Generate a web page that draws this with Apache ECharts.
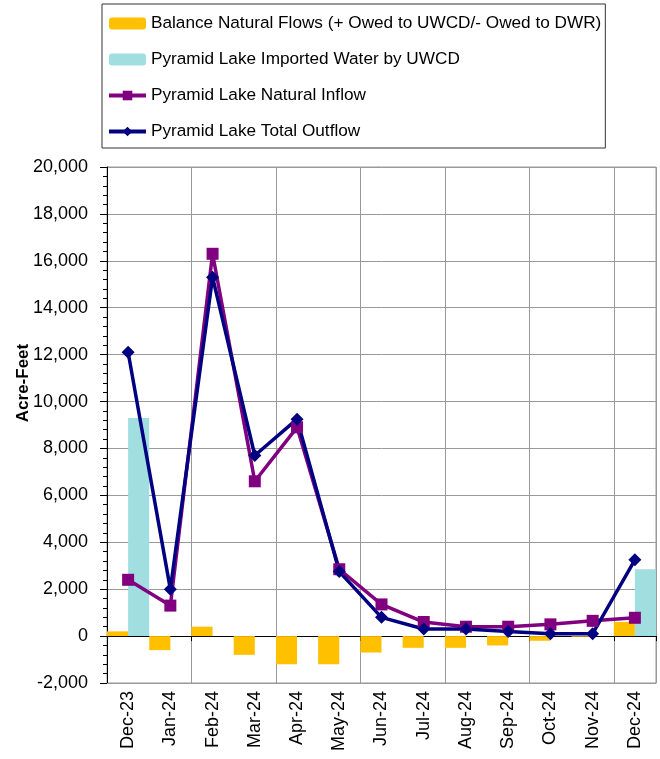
<!DOCTYPE html>
<html>
<head>
<meta charset="utf-8">
<script src="https://cdn.jsdelivr.net/npm/echarts@6/dist/echarts.min.js"></script>
<style>
  html, body { margin: 0; padding: 0; background: #fff; }
  #chart { width: 660px; height: 759px; }
</style>
</head>
<body>
<div id="chart"></div>
<script>
const months = ['Dec-23', 'Jan-24', 'Feb-24', 'Mar-24', 'Apr-24', 'May-24', 'Jun-24',
  'Jul-24', 'Aug-24', 'Sep-24', 'Oct-24', 'Nov-24', 'Dec-24']

// acre-feet
const balanceFlows = [200, -600, 400, -800, -1200, -1200, -700, -500, -500, -400, -200, -30, 600]
const importedWater = [9300, null, null, null, null, null, null, null, null, null, null, null, 2850]
const naturalInflow = [2400, 1300, 16300, 6600, 8900, 2850, 1350, 600, 400, 400, 500, 650, 780]
const totalOutflow = [12100, 2000, 15300, 7700, 9250, 2750, 800, 300, 300, 200, 100, 100, 3250]

const FONT = 'Liberation Sans, Arial, sans-serif'
const chart = echarts.init(document.getElementById('chart'))

chart.setOption({
  animation: false,
  textStyle: { fontFamily: FONT },
  legend: {
    orient: 'vertical',
    left: 102,
    top: 4,
    padding: [11, 4, 8, 5],
    itemGap: 19,
    itemWidth: 37,
    itemHeight: 12,
    borderColor: '#333',
    borderWidth: 1,
    backgroundColor: '#fff',
    textStyle: { fontSize: 17.2, color: '#000', fontFamily: FONT },
    data: [
      { name: 'Balance Natural Flows (+ Owed to UWCD/- Owed to DWR)' },
      { name: 'Pyramid Lake Imported Water by UWCD' },
      { name: 'Pyramid Lake Natural Inflow', lineStyle: { width: 4 } },
      { name: 'Pyramid Lake Total Outflow', lineStyle: { width: 4 } }
    ]
  },
  grid: {
    left: 107, right: 4, top: 167, bottom: 76,
    outerBoundsMode: 'none',
    containLabel: false,
    show: true, borderColor: '#999', borderWidth: 1
  },
  xAxis: [{
    type: 'category',
    data: months,
    position: 'bottom',
    axisLine: { onZero: true, lineStyle: { color: '#000', width: 1 } },
    axisTick: { show: true, length: 5, lineStyle: { color: '#000' } },
    axisLabel: { show: false },
    splitLine: { show: true, lineStyle: { color: '#999', width: 1 } }
  }, {
    type: 'category',
    data: months,
    position: 'bottom',
    axisLine: { onZero: false, lineStyle: { color: '#999' } },
    axisTick: { show: false },
    axisLabel: { rotate: 90, fontSize: 18, color: '#000', margin: 8, fontFamily: FONT },
    splitLine: { show: false }
  }],
  yAxis: {
    type: 'value',
    min: -2000,
    max: 20000,
    interval: 2000,
    name: 'Acre-Feet',
    nameLocation: 'middle',
    nameGap: 75,
    nameMoveOverlap: false,
    nameTextStyle: { fontSize: 17, fontWeight: 'bold', color: '#000', padding: [0, 0, 0, 84] },
    axisLine: { show: true, lineStyle: { color: '#000' } },
    axisTick: { show: true, length: 7, lineStyle: { color: '#000' } },
    minorTick: { show: true, splitNumber: 5, length: 4, lineStyle: { color: '#000' } },
    axisLabel: { fontSize: 18, color: '#000', margin: 19, fontFamily: FONT },
    splitLine: { show: true, lineStyle: { color: '#999', width: 1 } }
  },
  series: [{
    name: 'Balance Natural Flows (+ Owed to UWCD/- Owed to DWR)',
    type: 'bar',
    data: balanceFlows,
    barGap: 0,
    barCategoryGap: 0,
    itemStyle: { color: '#FFC000' }
  }, {
    name: 'Pyramid Lake Imported Water by UWCD',
    type: 'bar',
    data: importedWater,
    barGap: 0,
    barCategoryGap: 0,
    itemStyle: { color: '#A0DEDF' }
  }, {
    name: 'Pyramid Lake Natural Inflow',
    type: 'line',
    data: naturalInflow,
    symbol: 'rect',
    symbolSize: 12,
    lineStyle: { color: '#800080', width: 3.5 },
    itemStyle: { color: '#800080' }
  }, {
    name: 'Pyramid Lake Total Outflow',
    type: 'line',
    data: totalOutflow,
    symbol: 'diamond',
    symbolSize: 13,
    lineStyle: { color: '#000080', width: 3.5 },
    itemStyle: { color: '#000080' }
  }]
})
</script>
</body>
</html>
